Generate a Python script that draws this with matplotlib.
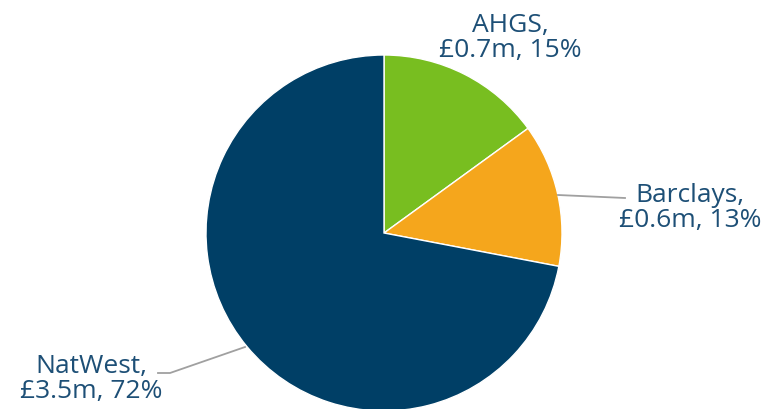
import matplotlib
matplotlib.use("Agg")
import matplotlib.pyplot as plt

categories = ["AHGS", "Barclays", "NatWest"]
amounts = ["£0.7m", "£0.6m", "£3.5m"]
percents = [15, 13, 72]
colors = ["#78BE20", "#F5A61C", "#003F66"]
text_color = "#1D4F76"

W, H, dpi = 771, 409, 100
fig = plt.figure(figsize=(W / dpi, H / dpi), dpi=dpi)
ax = fig.add_axes([0, 0, 1, 1])
R = 178.0
cx, cy = 384.0, 233.0
ax.axis("off")

ax.pie(percents, colors=colors, startangle=90, counterclock=False, radius=1,
       center=(0, 0), wedgeprops=dict(edgecolor="white", linewidth=1))
ax.set_aspect("equal")
ax.set_xlim(-cx / R, (W - cx) / R)
ax.set_ylim((cy - H) / R, cy / R)

labels = [f"{c},\n{a}, {p}%" for c, a, p in zip(categories, amounts, percents)]
font = dict(family=["Open Sans", "DejaVu Sans"], size=19, color=text_color,
            ha="center", va="center", linespacing=1.05)

def px(x, y):
    return ((x - cx) / R, (cy - y) / R)

# AHGS label (no leader)
ax.text(*px(510, 38), labels[0], **font)
# Barclays
ax.plot(*zip(px(558, 195), px(625, 198)), color="#A0A0A0", lw=1.3)
ax.text(*px(690, 208), labels[1], **font)
# NatWest
ax.plot(*zip(px(245, 347), px(170, 373), px(158, 373)), color="#A0A0A0", lw=1.3)
ax.text(*px(91, 379), labels[2], **font)

fig.savefig("out.png", dpi=dpi)
